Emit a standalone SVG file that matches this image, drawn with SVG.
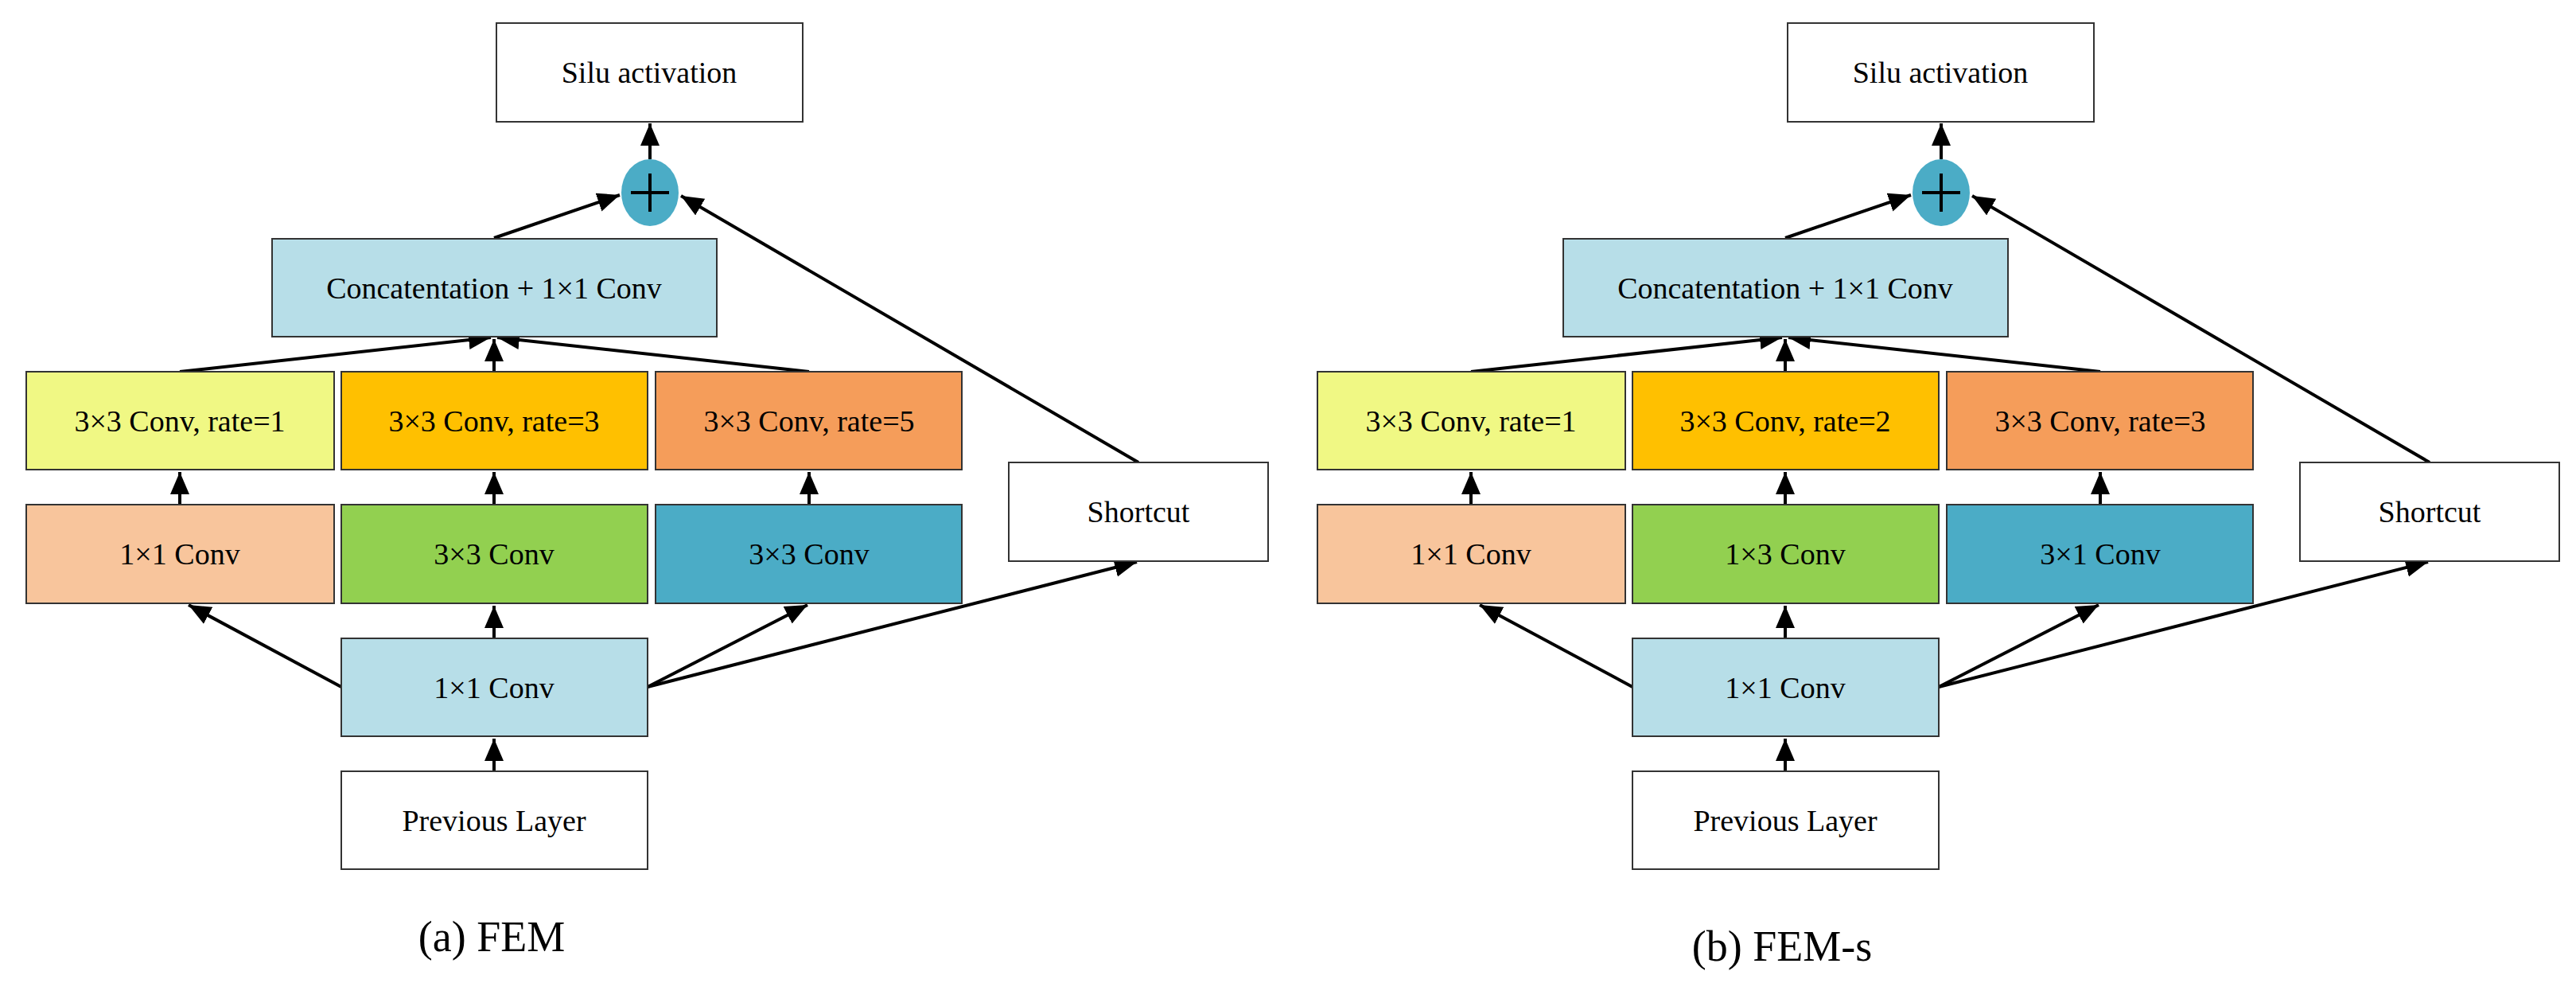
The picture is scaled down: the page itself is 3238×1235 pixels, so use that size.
<svg xmlns="http://www.w3.org/2000/svg" width="3238" height="1235" viewBox="0 0 3238 1235">
<style>
rect{stroke:#333;stroke-width:2}
text{font-family:"Liberation Serif","Times New Roman",serif;font-size:38px;text-anchor:middle;dominant-baseline:central;fill:#000}
.lab{font-size:54px}
.c line{stroke:#000;stroke-width:4;marker-end:url(#a)}
</style>
<defs>
<marker id="a" markerWidth="8" markerHeight="8" refX="7" refY="4" orient="auto" markerUnits="strokeWidth"><path d="M0,1 L7,4 L0,7 Z" fill="#000"/></marker>
<g id="half">
<g class="c">
<line x1="817" y1="200" x2="817" y2="155"/>
<line x1="621" y1="299" x2="779" y2="245"/>
<line x1="1431" y1="581" x2="856" y2="246"/>
<line x1="226" y1="467" x2="617" y2="424"/>
<line x1="621" y1="467" x2="621" y2="426"/>
<line x1="1017" y1="467" x2="625" y2="424"/>
<line x1="226" y1="634" x2="226" y2="593"/>
<line x1="621" y1="634" x2="621" y2="593"/>
<line x1="1017" y1="634" x2="1017" y2="593"/>
<line x1="429" y1="863" x2="237" y2="760"/>
<line x1="621" y1="802" x2="621" y2="761"/>
<line x1="814" y1="863" x2="1015" y2="760"/>
<line x1="814" y1="863" x2="1429" y2="706"/>
<line x1="621" y1="969" x2="621" y2="928"/>
</g>
<g id="silu"><rect x="624" y="29" width="385" height="124" fill="#fff"/><text x="816" y="91">Silu activation</text></g>
<g id="add"><ellipse cx="817" cy="242" rx="36" ry="42" fill="#4BACC6"/><path d="M817,218 V266 M793,242 H841" stroke="#000" stroke-width="4"/></g>
<g id="concat"><rect x="342" y="300" width="559" height="123" fill="#B7DEE8"/><text x="621" y="362">Concatentation + 1×1 Conv</text></g>
<rect x="33" y="467" width="387" height="123" fill="#F0F884"/>
<rect x="429" y="467" width="385" height="123" fill="#FFC000"/>
<rect x="824" y="467" width="385" height="123" fill="#F59D5A"/>
<rect x="33" y="634" width="387" height="124" fill="#F8C59C"/>
<rect x="429" y="634" width="385" height="124" fill="#92D050"/>
<rect x="824" y="634" width="385" height="124" fill="#4BACC6"/>
<g id="c11"><rect x="429" y="802" width="385" height="123" fill="#B7DEE8"/><text x="621" y="864">1×1 Conv</text></g>
<g id="prev"><rect x="429" y="969" width="385" height="123" fill="#fff"/><text x="621" y="1031">Previous Layer</text></g>
<g id="short"><rect x="1268" y="581" width="326" height="124" fill="#fff"/><text x="1431" y="643">Shortcut</text></g>
</g>
</defs>
<g id="fem">
<use href="#half"/>
<text x="226" y="529">3×3 Conv, rate=1</text>
<text x="621" y="529">3×3 Conv, rate=3</text>
<text x="1017" y="529">3×3 Conv, rate=5</text>
<text x="226" y="696">1×1 Conv</text>
<text x="621" y="696">3×3 Conv</text>
<text x="1017" y="696">3×3 Conv</text>
<text class="lab" x="618" y="1177">(a) FEM</text>
</g>
<g id="fems" transform="translate(1623,0)">
<use href="#half"/>
<text x="226" y="529">3×3 Conv, rate=1</text>
<text x="621" y="529">3×3 Conv, rate=2</text>
<text x="1017" y="529">3×3 Conv, rate=3</text>
<text x="226" y="696">1×1 Conv</text>
<text x="621" y="696">1×3 Conv</text>
<text x="1017" y="696">3×1 Conv</text>
<text class="lab" x="617" y="1189">(b) FEM-s</text>
</g>
</svg>
